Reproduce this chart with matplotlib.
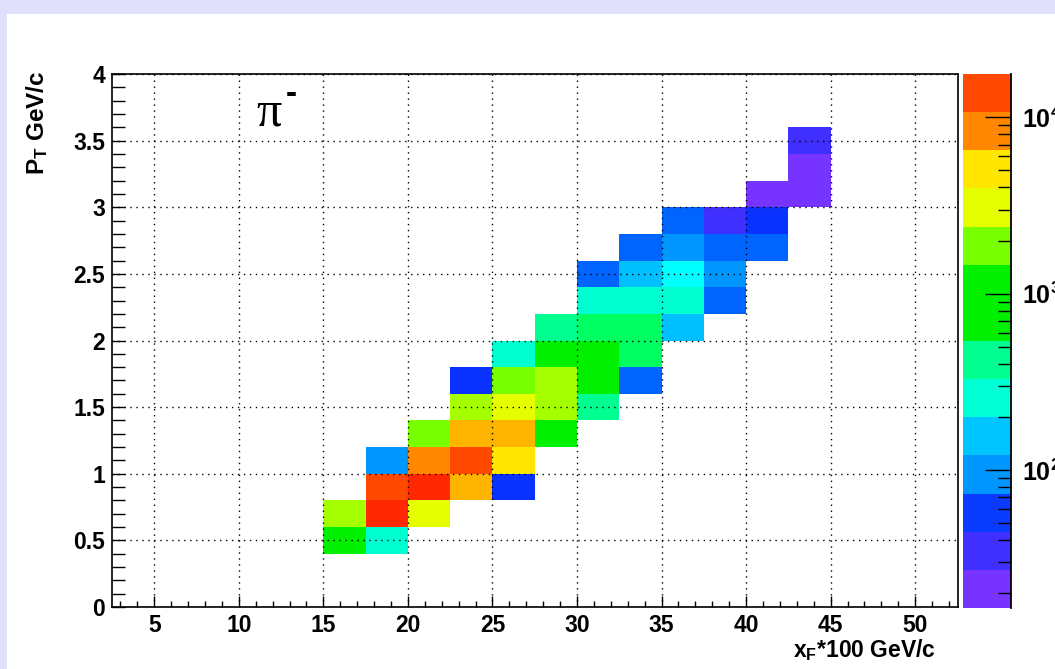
import numpy as np
import matplotlib.pyplot as plt
from matplotlib.colors import ListedColormap, LogNorm
from matplotlib.cm import ScalarMappable
from matplotlib.patches import Rectangle
from matplotlib.ticker import MultipleLocator, LogLocator, FuncFormatter, NullFormatter

plt.rcParams['font.family'] = 'Liberation Sans'
plt.rcParams['mathtext.fontset'] = 'custom'
plt.rcParams['mathtext.rm'] = 'Liberation Sans:bold'
plt.rcParams['mathtext.bf'] = 'Liberation Sans:bold'
plt.rcParams['mathtext.it'] = 'Liberation Sans:bold'

# pi- yield binned in xF*100 (2.5 wide) and pT (0.2 GeV/c wide)
xf_edges = [15, 17.5, 20, 22.5, 25, 27.5, 30, 32.5, 35, 37.5, 40, 42.5, 45]
pt_edges = [0.4, 0.6, 0.8, 1.0, 1.2, 1.4, 1.6, 1.8, 2.0, 2.2, 2.4, 2.6, 2.8,
            3.0, 3.2, 3.4, 3.6]

# one row per pT bin (lowest first), one column per xF bin; 0 = empty bin
counts = [
    [780, 250, 0, 0, 0, 0, 0, 0, 0, 0, 0, 0],
    [1600, 14200, 2400, 0, 0, 0, 0, 0, 0, 0, 0, 0],
    [0, 10300, 14500, 4800, 40, 0, 0, 0, 0, 0, 0, 0],
    [0, 85, 7000, 10100, 3300, 0, 0, 0, 0, 0, 0, 0],
    [0, 0, 1100, 4700, 4900, 760, 0, 0, 0, 0, 0, 0],
    [0, 0, 0, 1650, 2350, 1580, 370, 0, 0, 0, 0, 0],
    [0, 0, 0, 41, 1120, 1620, 790, 60, 0, 0, 0, 0],
    [0, 0, 0, 0, 255, 770, 800, 530, 0, 0, 0, 0],
    [0, 0, 0, 0, 0, 380, 540, 520, 125, 0, 0, 0],
    [0, 0, 0, 0, 0, 0, 250, 260, 245, 62, 0, 0],
    [0, 0, 0, 0, 0, 0, 58, 122, 175, 88, 0, 0],
    [0, 0, 0, 0, 0, 0, 0, 61, 86, 57, 60, 0],
    [0, 0, 0, 0, 0, 0, 0, 0, 59, 28, 42, 0],
    [0, 0, 0, 0, 0, 0, 0, 0, 0, 0, 20, 21],
    [0, 0, 0, 0, 0, 0, 0, 0, 0, 0, 0, 20],
    [0, 0, 0, 0, 0, 0, 0, 0, 0, 0, 0, 29],
]

z_min, z_max = 16.5, 17600

# rainbow palette for the cells, and the coarser contour bands on the z axis
cell_colors = ['#7733ff', '#4030ff', '#0a32ff', '#0064ff', '#0096ff', '#00c0ff',
               '#00ffff', '#00ffd0', '#00ff90', '#00ff60', '#00f000', '#78ff00',
               '#a5ff00', '#e5ff00', '#ffe600', '#ffb400', '#ff8800', '#ff4800',
               '#ff2800']
band_colors = ['#7733ff', '#4030ff', '#0a3cff', '#0096ff', '#00c4ff', '#00ffd4',
               '#00ff90', '#00f000', '#00f000', '#78ff00', '#e5ff00', '#ffe600',
               '#ff8800', '#ff4800']

W, H = 1055, 669
fig = plt.figure(figsize=(W / 100, H / 100), dpi=100)
fig.patch.set_facecolor('#e0e0fa')
fig.add_artist(Rectangle((7 / W, 0), 1, 1 - 14 / H, transform=fig.transFigure,
                         facecolor='white', edgecolor='none', zorder=-1))

norm = LogNorm(vmin=z_min, vmax=z_max)

ax = fig.add_axes([112 / W, 1 - 607 / H, (957.5 - 112) / W, 533 / H])
z = np.ma.masked_equal(np.array(counts, dtype=float), 0)
ax.pcolormesh(xf_edges, pt_edges, z, cmap=ListedColormap(cell_colors),
              norm=norm, zorder=1)

ax.set_xlim(2.5, 52.5)
ax.set_ylim(0, 4)
ax.xaxis.set_major_locator(MultipleLocator(5))
ax.xaxis.set_minor_locator(MultipleLocator(1))
ax.yaxis.set_major_locator(MultipleLocator(0.5))
ax.yaxis.set_minor_locator(MultipleLocator(0.1))
ax.yaxis.set_major_formatter(FuncFormatter(lambda v, _: f'{v:g}'))
ax.tick_params(which='both', direction='in', top=False, right=False, width=1)
ax.tick_params(axis='x', which='major', length=8, pad=5)
ax.tick_params(axis='x', which='minor', length=4.3)
ax.tick_params(axis='y', which='both', length=9.4, pad=5)
for lab in ax.get_xticklabels() + ax.get_yticklabels():
    lab.set_fontsize(16.5)
    lab.set_fontweight('bold')
for sp in ax.spines.values():
    sp.set_linewidth(1.2)
ax.set_axisbelow(False)
ax.grid(True, which='major', color='k', linestyle=(0, (1, 3.3)), linewidth=1)

fig.text(936 / W, 1 - 650 / H, r'x$_\mathbf{F}$*100 GeV/c', ha='right', va='center',
         fontsize=16.5, fontweight='bold')
fig.text(37 / W, 1 - 71 / H, r'P$_\mathbf{T}$ GeV/c', ha='center', va='top',
         rotation=90, fontsize=17.5, fontweight='bold')

ax.text(0.171, 0.927, 'π', transform=ax.transAxes, ha='left', va='center',
        fontsize=36, family='Liberation Serif')
ax.text(0.205, 0.962, '-', transform=ax.transAxes, ha='left', va='center',
        fontsize=24, fontweight='bold')

# z axis
cax = fig.add_axes([962.5 / W, 1 - 608 / H, 48.5 / W, 534 / H])
cb = fig.colorbar(ScalarMappable(norm=norm, cmap=ListedColormap(band_colors)), cax=cax)
cb.outline.set_visible(False)
cax.axvline(1.0, color='k', lw=1.3, clip_on=False)
cax.yaxis.set_ticks_position('right')
cax.yaxis.set_major_locator(LogLocator(10))
cax.yaxis.set_minor_locator(LogLocator(10, subs=np.arange(2, 10)))
cax.yaxis.set_minor_formatter(NullFormatter())
cax.yaxis.set_major_formatter(
    FuncFormatter(lambda v, _: r'$\mathbf{10^{%d}}$' % round(np.log10(v))))
cax.tick_params(which='major', direction='in', length=18.7, width=1, pad=8,
                labelsize=18)
cax.tick_params(which='minor', direction='in', length=9.4, width=1)

fig.savefig('out.png', dpi=100, facecolor=fig.get_facecolor())
